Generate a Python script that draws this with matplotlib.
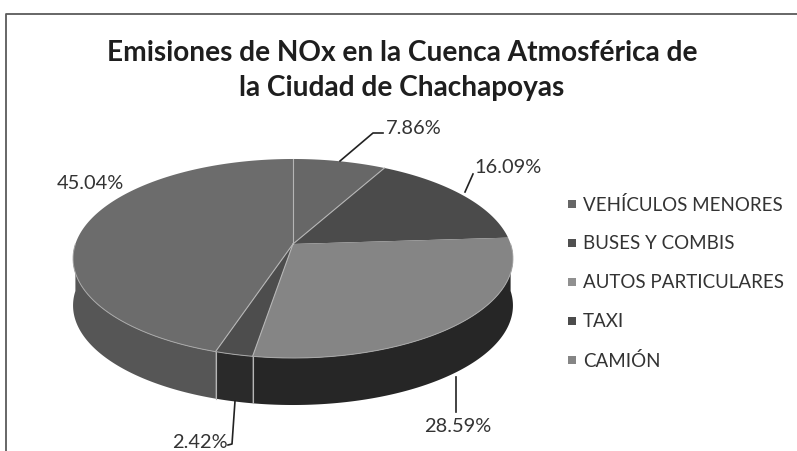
import numpy as np
import matplotlib
matplotlib.use("Agg")
import matplotlib.pyplot as plt

categorias = ["VEHÍCULOS MENORES", "BUSES Y COMBIS", "AUTOS PARTICULARES", "TAXI", "CAMIÓN"]
valores = [7.86, 16.09, 28.59, 2.42, 45.04]
color_arriba = ["#676767", "#4b4b4b", "#858585", "#4d4d4d", "#6c6c6c"]
color_lado = ["#3c3c3c", "#333333", "#262626", "#2a2a2a", "#565656"]
color_leyenda = ["#666666", "#505050", "#909090", "#4c4c4c", "#858585"]

plt.rcParams["font.family"] = ["Lato", "DejaVu Sans"]

fig = plt.figure(figsize=(7.97, 4.52), dpi=100)
ax = fig.add_axes([0, 0, 1, 1])
ax.set_xlim(0, 797)
ax.set_ylim(452, 0)
ax.axis("off")

# centro del pastel y perspectiva
cx, cy = 293, 245
rx, ry, b = 217.6, 97.4, 0.1457
alto = 47


def borde(t):
    u, v = np.sin(t), np.cos(t)
    d = 1 + b * v
    return cx + rx * u / d, cy - ry * v / d


# marco
ax.plot([6, 6, 797], [452, 15, 15], color="#5a5a5a", lw=1.3)

angulos = np.radians(np.cumsum([0] + valores) * 360 / sum(valores))

# paredes laterales
for i in range(len(valores)):
    t1, t2 = angulos[i], angulos[i + 1]
    ini, fin = max(t1, np.pi / 2), min(t2, 3 * np.pi / 2)
    if ini < fin:
        t = np.linspace(ini, fin, 120)
        x, y = borde(t)
        ax.fill(np.r_[x, x[::-1]], np.r_[y, y[::-1] + alto], color=color_lado[i], lw=0, zorder=2)

# separadores en la pared
for k in [3, 4]:
    x, y = borde(angulos[k])
    ax.plot([x, x], [y, y + alto], color="#b5b5b5", lw=0.8, zorder=3)

# cara superior
for i in range(len(valores)):
    t = np.linspace(angulos[i], angulos[i + 1], 150)
    x, y = borde(t)
    ax.fill(np.r_[cx, x], np.r_[cy, y], color=color_arriba[i], lw=0, zorder=4)

# lineas claras entre porciones
for k in [0, 1, 3, 4]:
    x, y = borde(angulos[k])
    ax.plot([cx, x], [cy, y], color="#b5b5b5", lw=0.8, zorder=5)
t = np.linspace(np.pi / 2, 3 * np.pi / 2, 200)
x, y = borde(t)
ax.plot(x, y, color="#a8a8a8", lw=0.7, zorder=5)

# titulo
ax.text(402, 53, "Emisiones de NOx en la Cuenca Atmosférica de", fontsize=20.2, fontweight="bold",
        color="#1e1e1e", ha="center", va="center")
ax.text(402, 88, "la Ciudad de Chachapoyas", fontsize=20.2, fontweight="bold",
        color="#1e1e1e", ha="center", va="center")

# etiquetas con lineas guia
etiquetas = ["%.2f%%" % v for v in valores]
pos_x = [414, 508, 458, 200, 90]
pos_y = [128, 168, 427, 443, 184]
for i in range(len(valores)):
    ax.text(pos_x[i], pos_y[i], etiquetas[i], fontsize=14.4, color="#333333", ha="center", va="center", zorder=7)
ax.plot([340, 373, 383], [162, 134, 134], color="#222222", lw=1.2, zorder=6)
ax.plot([465, 473], [193, 175], color="#222222", lw=1.2, zorder=6)
ax.plot([456, 456], [378, 413], color="#222222", lw=1.2, zorder=6)
ax.plot([235, 232, 228], [402, 445, 446], color="#222222", lw=1.2, zorder=6)

# leyenda
ley_y = [205, 244, 283, 322, 361]
for i in range(len(categorias)):
    ax.scatter(572, ley_y[i], s=36, marker="s", color=color_leyenda[i], lw=0, zorder=6)
    ax.text(583, ley_y[i], categorias[i], fontsize=13.5, color="#333333", ha="left", va="center")

fig.savefig("out.png", dpi=100)
